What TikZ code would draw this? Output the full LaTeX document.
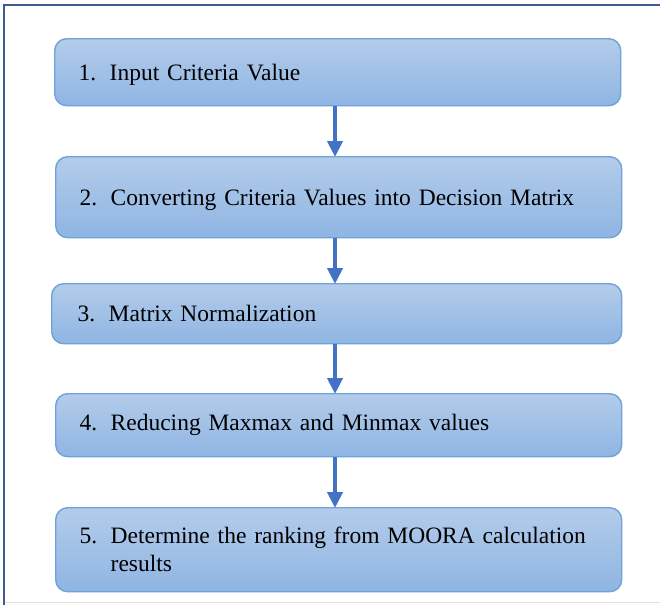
\documentclass[tikz,border=0pt]{standalone}
\usepackage{fontspec}
\setmainfont{Liberation Serif}
\usetikzlibrary{arrows.meta}
\definecolor{boxtop}{HTML}{B3CCEA}
\definecolor{boxbot}{HTML}{8FB5E3}
\definecolor{boxline}{HTML}{6FA2DA}
\definecolor{arrcol}{HTML}{4472C4}
\definecolor{framecol}{HTML}{3C5A96}
\definecolor{framegray}{HTML}{E2E2E2}
\tikzset{
  stepbox/.style={draw=boxline, line width=1.4pt, rounded corners=12pt,
    top color=boxtop, bottom color=boxbot, minimum width=566pt,
    inner xsep=24pt, inner ysep=0pt, text width=518pt, align=left,
    font=\fontsize{23.5}{28}\selectfont, anchor=north west},
  flowarrow/.style={draw=arrcol, line width=4pt,
    -{Triangle[width=15pt,length=16pt]}, shorten >=-1pt},
}
\newcommand{\numlbl}[1]{\makebox[31pt][l]{#1}}
\newcommand{\shiftdown}[2]{\raisebox{-#1}[\height][\depth]{#2}}
\begin{document}
\begin{tikzpicture}[x=1pt,y=-1pt]
\useasboundingbox (0,0) rectangle (660,605);
\fill[white] (0,0) rectangle (660,605);
% frame
\draw[framegray, line width=1pt] (5,602) -- (660,602);
\draw[framecol, line width=2.4pt] (4,605) -- (4,5) -- (660,5);
% boxes
\node[stepbox, minimum height=67pt] (b1) at (54,38) {\shiftdown{2.5pt}{\numlbl{1.}Input Criteria Value}};
\node[stepbox, minimum height=81pt] (b2) at (55,156) {\shiftdown{3pt}{\numlbl{2.}Converting Criteria Values into Decision Matrix}};
\node[stepbox, minimum height=60pt, minimum width=570pt] (b3) at (51,283) {\numlbl{3.}Matrix Normalization};
\node[stepbox, minimum height=63pt] (b4) at (55,393) {\numlbl{4.}Reducing Maxmax and Minmax values};
\node[stepbox, minimum height=84pt] (b5) at (55,507) {\numlbl{5.}Determine the ranking from MOORA calculation\\\hspace*{31pt}results};
% arrows
\coordinate (ax) at (335,0);
\draw[flowarrow] (b1.south -| ax) -- (b2.north -| ax);
\draw[flowarrow] (b2.south -| ax) -- (b3.north -| ax);
\draw[flowarrow] (b3.south -| ax) -- (b4.north -| ax);
\draw[flowarrow] (b4.south -| ax) -- (b5.north -| ax);
\end{tikzpicture}
\end{document}
